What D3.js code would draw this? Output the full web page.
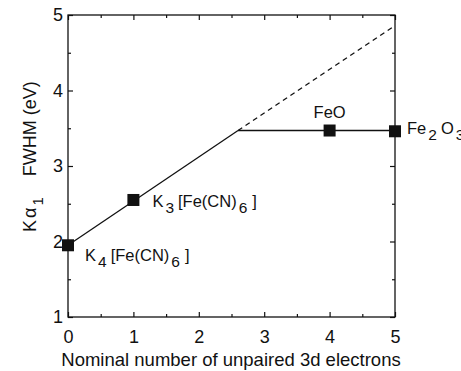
<!DOCTYPE html>
<html lang="en">
<head>
<meta charset="utf-8">
<title>FWHM vs unpaired electrons</title>
<style>
  body { margin: 0; background: #fff; }
  text { font-family: "Liberation Sans", Arial, sans-serif; fill: #111; }
  .frame { fill: none; stroke: #111; stroke-width: 1.3px; }
  .fit { fill: none; stroke: #111; stroke-width: 1.3px; }
  .axis path, .axis line { stroke: #111; stroke-width: 1.2px; }
</style>
</head>
<body>
<script src="https://cdn.jsdelivr.net/npm/d3@7/dist/d3.min.js"></script>
<script>
// data
var compounds = ["K4[Fe(CN)6]", "K3[Fe(CN)6]", "FeO", "Fe2O3"];
var unpaired = [0, 1, 4, 5];
var fwhm = [1.95, 2.55, 3.47, 3.46];

// linear trend (solid part then dashed extrapolation) and the flat line
var trendSolid = [[0, 1.95], [2.6, 3.47]];
var trendDashed = [[2.6, 3.47], [5, 4.86]];
var flatLine = [[2.6, 3.47], [5, 3.47]];

var xTicks = [0, 1, 2, 3, 4, 5];
var yTicks = [1, 2, 3, 4, 5];

var W = 461, H = 371;
var margin = {top: 15, right: 66, bottom: 54, left: 68};
var width = W - margin.left - margin.right,
    height = H - margin.top - margin.bottom;

var svg = d3.select("body").append("svg")
    .attr("width", W)
    .attr("height", H);

var g = svg.append("g")
    .attr("transform", "translate(" + margin.left + "," + margin.top + ")");

var x = d3.scaleLinear().domain([0, 5]).range([0, width]);
var y = d3.scaleLinear().domain([1, 5]).range([height, 0]);

// minor ticks at half steps, inward on all four sides
var xMinor = d3.range(0.5, 5, 1), yMinor = d3.range(1.5, 5, 1);

function noDomain(s) { s.select(".domain").remove(); }

function inwardAxes() {
    g.append("g").attr("class", "axis")
        .attr("transform", "translate(0," + height + ")")
        .call(d3.axisBottom(x).tickValues(xTicks).tickSize(-5).tickPadding(13).tickFormat(d3.format("d")))
        .call(noDomain)
        .selectAll("text").attr("font-size", 18);
    g.append("g").attr("class", "axis")
        .attr("transform", "translate(0," + height + ")")
        .call(d3.axisBottom(x).tickValues(xMinor).tickSize(-3).tickFormat(""))
        .call(noDomain);

    g.append("g").attr("class", "axis")
        .call(d3.axisTop(x).tickValues(xTicks).tickSize(-5).tickFormat(""))
        .call(noDomain);
    g.append("g").attr("class", "axis")
        .call(d3.axisTop(x).tickValues(xMinor).tickSize(-3).tickFormat(""))
        .call(noDomain);

    g.append("g").attr("class", "axis")
        .call(d3.axisLeft(y).tickValues(yTicks).tickSize(-5).tickPadding(5).tickFormat(d3.format("d")))
        .call(noDomain)
        .selectAll("text").attr("font-size", 18);
    g.append("g").attr("class", "axis")
        .call(d3.axisLeft(y).tickValues(yMinor).tickSize(-3).tickFormat(""))
        .call(noDomain);

    g.append("g").attr("class", "axis")
        .attr("transform", "translate(" + width + ",0)")
        .call(d3.axisRight(y).tickValues(yTicks).tickSize(-5).tickFormat(""))
        .call(noDomain);
    g.append("g").attr("class", "axis")
        .attr("transform", "translate(" + width + ",0)")
        .call(d3.axisRight(y).tickValues(yMinor).tickSize(-3).tickFormat(""))
        .call(noDomain);
}
inwardAxes();

g.append("rect").attr("class", "frame")
    .attr("x", 0).attr("y", 0).attr("width", width).attr("height", height);

var line = d3.line().x(function(d) { return x(d[0]); }).y(function(d) { return y(d[1]); });

g.append("path").attr("class", "fit").attr("d", line(trendSolid));
g.append("path").attr("class", "fit").attr("d", line(trendDashed)).attr("stroke-dasharray", "5,4");
g.append("path").attr("class", "fit").attr("d", line(flatLine));

// markers
var sq = 12;
g.selectAll("rect.pt")
    .data(unpaired)
    .enter().append("rect")
    .attr("class", "pt")
    .attr("x", function(d) { return x(d) - sq / 2; })
    .attr("y", function(d, i) { return y(fwhm[i]) - sq / 2; })
    .attr("width", sq).attr("height", sq)
    .attr("fill", "#111");

// labels with subscripts: [text, subscript?] parts
var labelParts = [
    [["K", 0], ["4", 1], ["[Fe(CN)", 0], ["6", 1], ["]", 0]],
    [["K", 0], ["3", 1], ["[Fe(CN)", 0], ["6", 1], ["]", 0]],
    [["FeO", 0]],
    [["Fe", 0], ["2", 1], ["O", 0], ["3", 1]]
];
var labelOffset = [[17, 16], [19, 7], [0, -13], [12, 3]];
var labelAnchor = ["start", "start", "middle", "start"];

labelParts.forEach(function(parts, i) {
    var t = g.append("text")
        .attr("x", x(unpaired[i]) + labelOffset[i][0])
        .attr("y", y(fwhm[i]) + labelOffset[i][1])
        .attr("text-anchor", labelAnchor[i])
        .attr("font-size", 16.5);
    var low = false;
    parts.forEach(function(p) {
        var ts = t.append("tspan").text(p[0]);
        if (p[1] && !low) { ts.attr("dy", 6).attr("dx", 2).attr("font-size", 15.5); low = true; }
        else if (!p[1] && low) {
            ts.attr("dy", -6).attr("dx", p[0] === "]" ? 5 : 4);
            low = false;
        }
    });
});

// axis titles
svg.append("text")
    .attr("x", 231)
    .attr("y", 366)
    .attr("text-anchor", "middle")
    .attr("font-size", 18.5)
    .text("Nominal number of unpaired 3d electrons");

var yt = svg.append("text")
    .attr("transform", "translate(36,232) rotate(-90)")
    .attr("font-size", 18);
yt.append("tspan").text("K");
yt.append("tspan").text("α").attr("dx", 2);
yt.append("tspan").text("1").attr("dy", 7).attr("dx", 2).attr("font-size", 15);
yt.append("tspan").text("FWHM (eV)").attr("dy", -7).attr("dx", 21);
</script>
</body>
</html>
